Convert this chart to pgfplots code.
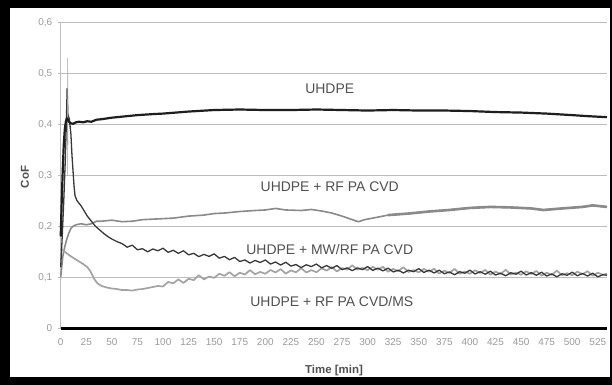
\documentclass[border=0pt]{standalone}
\usepackage{pgfplots}
\pgfplotsset{compat=1.18}
\usepackage{fontspec}
\setmainfont{Liberation Sans}
\definecolor{tickgray}{HTML}{9A9A9A}
\definecolor{gridgray}{HTML}{BDBDBD}
\definecolor{txtgray}{HTML}{505050}
\definecolor{cUH}{HTML}{1E1E1E}
\definecolor{cMW}{HTML}{383838}
\definecolor{cRF}{HTML}{8A8A8A}
\definecolor{cMS}{HTML}{A3A3A3}
\begin{document}
\begin{tikzpicture}
\fill[black] (0,0) rectangle (612bp,385bp);
\fill[white] (10bp,8bp) rectangle (610bp,377bp);
\begin{axis}[
  at={(60.7bp,56.7bp)}, anchor=south west,
  scale only axis, width=546.3bp, height=306bp,
  xmin=0, xmax=534, ymin=0, ymax=0.6,
  axis x line*=bottom, axis y line*=left,
  x axis line style={-, line width=2.6bp, black},
  y axis line style={-, line width=1bp, gridgray},
  xtick={0,25,...,525}, ytick={0,0.1,...,0.6},
  xtick style={draw=none},
  ytick style={gridgray, line width=0.8bp},
  tick align=outside, major tick length=3bp,
  ymajorgrids, major grid style={gridgray, line width=1bp},
  /pgf/number format/assume math mode=true,
  /pgf/number format/use comma,
  ticklabel style={font=\fontsize{10}{12}\selectfont, text=tickgray},
  xticklabel style={yshift=-4bp},
  yticklabel style={xshift=-2bp},
  clip=false,
]
\addplot[cRF, line width=1.6bp, line join=round] coordinates {
(0,0.10) (2,0.14) (4,0.16) (6,0.175) (8,0.187) (10,0.196) (12,0.2) (15,0.203) (20,0.205) (25,0.203) (30,0.205) (35,0.21) (40,0.21) (50,0.212) (60,0.209) (70,0.21) (80,0.213) (90,0.214) (100,0.215) (110,0.216) (125,0.22) (140,0.222) (150,0.225) (160,0.226) (175,0.229) (190,0.231) (200,0.232) (210,0.235) (220,0.232) (235,0.231) (245,0.233) (255,0.23) (265,0.226) (275,0.22) (285,0.213) (291,0.209) (297,0.213) (305,0.216) (320,0.222) (340,0.225) (360,0.229) (380,0.232) (400,0.236) (420,0.238) (440,0.237) (460,0.235) (472,0.232) (490,0.235) (510,0.238) (520,0.241) (534,0.238)
};
\addplot[cRF, line width=2.6bp, line join=round] coordinates {
(320,0.222) (340,0.225) (360,0.229) (380,0.232) (400,0.236) (420,0.238) (440,0.237) (460,0.235) (472,0.232) (490,0.235) (510,0.238) (520,0.241) (534,0.238)
};
\addplot[cMS, line width=1.7bp, line join=round] coordinates {
(0,0.155) (3,0.152) (6,0.147) (10,0.141) (14,0.136) (18,0.131) (22,0.126) (26,0.12) (29,0.112) (31,0.104) (33,0.096) (36,0.088) (40,0.083) (45,0.08) (50,0.078) (55,0.077) (60,0.075) (65,0.075) (70,0.074) (75,0.076) (80,0.077) (85,0.079) (90,0.081) (95,0.083)
(100,0.082) (105,0.091) (110,0.088) (115,0.096) (120,0.089) (125,0.097) (130,0.0945) (135,0.104) (140,0.096) (145,0.1015) (150,0.099) (155,0.107) (160,0.103) (165,0.110) (170,0.102) (175,0.109) (180,0.1055) (185,0.114) (190,0.106) (195,0.1105) (200,0.107) (205,0.1143) (210,0.1096) (215,0.116) (220,0.1072) (225,0.1135) (230,0.1098) (235,0.118) (240,0.1095) (245,0.114) (250,0.110) (255,0.1176) (260,0.1132) (265,0.120) (270,0.1115) (275,0.118) (280,0.115) (285,0.1235) (290,0.115) (295,0.1185) (300,0.114) (305,0.1205) (310,0.115) (315,0.1205) (320,0.111) (325,0.1165) (330,0.112) (335,0.1197) (340,0.1104) (345,0.114) (350,0.1097) (355,0.1164) (360,0.111) (365,0.1167) (370,0.1074) (375,0.113) (380,0.1087) (385,0.1164) (390,0.107) (395,0.111) (400,0.107) (405,0.1138) (410,0.1086) (415,0.1144) (420,0.1052) (425,0.111) (430,0.1068) (435,0.1146) (440,0.1054) (445,0.1092) (450,0.105) (455,0.1118) (460,0.1066) (465,0.1124) (470,0.1032) (475,0.109) (480,0.105) (485,0.113) (490,0.104) (495,0.108) (500,0.104) (505,0.111) (510,0.106) (515,0.112) (520,0.103) (525,0.109) (530,0.105) (534,0.107)
};
\addplot[cMW, line width=1.3bp, line join=round] coordinates {
(0,0.12) (1.5,0.18) (3,0.25) (4.5,0.33) (5.5,0.40) (6.3,0.47) (7.0,0.42) (8.5,0.41) (10,0.38) (11,0.34) (12,0.31) (13,0.28) (14,0.26) (16,0.25) (18,0.245) (20,0.24) (23,0.23) (26,0.22) (30,0.21) (34,0.2) (38,0.193) (42,0.186) (46,0.18) (50,0.175) (55,0.17)
(60,0.166) (65,0.159) (70,0.163) (75,0.154) (80,0.156) (85,0.150) (90,0.1555) (95,0.152) (100,0.157) (105,0.149) (110,0.153) (115,0.147) (120,0.152) (125,0.144) (130,0.147) (135,0.1405) (140,0.145) (145,0.141) (150,0.146) (155,0.1375) (160,0.141) (165,0.1345) (170,0.139) (175,0.131) (180,0.134) (185,0.128) (190,0.133) (195,0.129) (200,0.134) (205,0.126) (210,0.130) (215,0.124) (220,0.1295) (225,0.122) (230,0.125) (235,0.119) (240,0.1245) (245,0.121) (250,0.126) (255,0.1185) (260,0.123) (265,0.1175) (270,0.123) (275,0.115) (280,0.1185) (285,0.113) (290,0.1185) (295,0.115) (300,0.121) (305,0.1135) (310,0.118) (315,0.1125) (320,0.118) (325,0.1105) (330,0.114) (335,0.1085) (340,0.114) (345,0.111) (350,0.117) (355,0.1095) (360,0.114) (365,0.1085) (370,0.114) (375,0.107) (380,0.1105) (385,0.105) (390,0.111) (395,0.108) (400,0.114) (405,0.1065) (410,0.111) (415,0.106) (420,0.112) (425,0.1045) (430,0.108) (435,0.103) (440,0.109) (445,0.106) (450,0.112) (455,0.1045) (460,0.109) (465,0.104) (470,0.110) (475,0.1025) (480,0.1065) (485,0.101) (490,0.107) (495,0.104) (500,0.110) (505,0.103) (510,0.1075) (515,0.1025) (520,0.108) (525,0.101) (530,0.105) (534,0.104)
};
\addplot[cMS, line width=0.6bp] coordinates {(6.5,0.30) (6.8,0.53) (7.1,0.36)};
\addplot[cUH, line width=2.2bp, line join=round] coordinates {
(0,0.18) (1,0.25) (2,0.31) (3,0.36) (4,0.39) (5,0.405) (6,0.412) (7,0.41) (8,0.405) (10,0.402) (12,0.401) (15,0.404) (18,0.405) (22,0.404) (26,0.406) (30,0.405) (35,0.409) (40,0.41) (50,0.413) (60,0.415) (75,0.418) (90,0.42) (100,0.421) (125,0.425) (150,0.428) (175,0.429) (200,0.428) (225,0.428) (250,0.429) (275,0.428) (300,0.427) (325,0.428) (350,0.427) (375,0.427) (400,0.426) (425,0.424) (450,0.423) (475,0.421) (500,0.418) (515,0.416) (534,0.414)
};
\begin{scope}[every node/.style={font=\fontsize{14}{16}\selectfont, text=txtgray}]
\node at (axis cs:263,0.469) {UHDPE};
\node at (axis cs:263,0.278) {UHDPE + RF PA CVD};
\node at (axis cs:263,0.155) {UHDPE + MW/RF PA CVD};
\node at (axis cs:265,0.052) {UHDPE + RF PA CVD/MS};
\end{scope}
\end{axis}
\node[font=\bfseries\fontsize{11.5}{13}\selectfont, text=txtgray] at (334bp,14bp) {Time [min]};
\node[font=\bfseries\fontsize{11.5}{13}\selectfont, text=txtgray, rotate=90] at (25bp,208bp) {CoF};
\end{tikzpicture}
\end{document}
